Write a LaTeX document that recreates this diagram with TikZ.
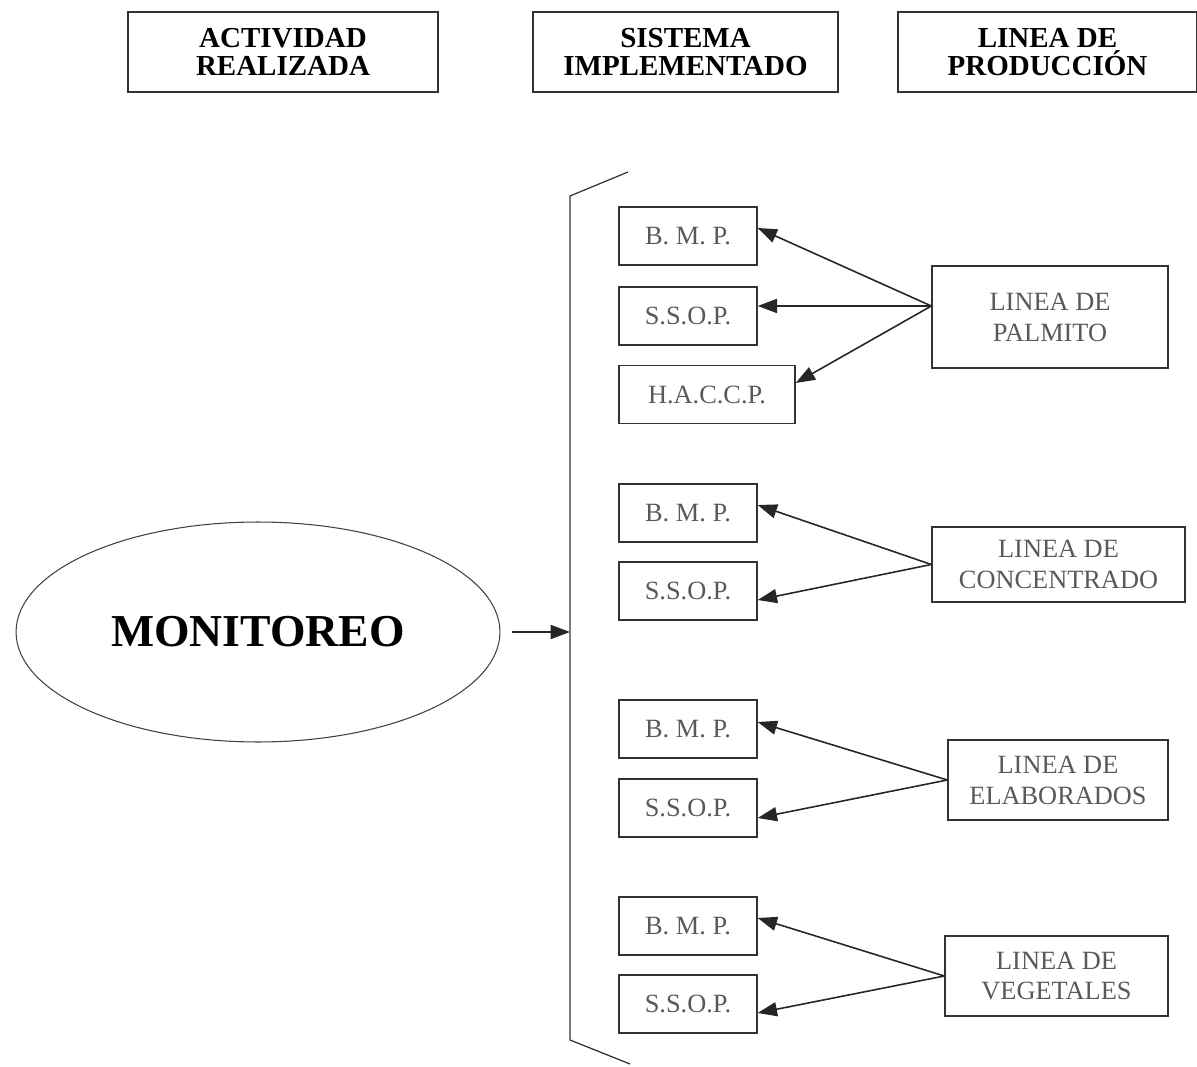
\documentclass[tikz,border=0pt]{standalone}
\usepackage{fontspec}
\setmainfont{Liberation Serif}
\usepackage{tikz}
\usetikzlibrary{shapes.geometric,arrows.meta}

\begin{document}
\begin{tikzpicture}[x=0.02cm, y=0.02cm,
  hdr/.style={draw=black!80, line width=0.8pt, minimum height=1.6cm, inner sep=0pt, align=center,
    font=\bfseries\fontsize{16.5}{15.6}\selectfont},
  sysbox/.style={draw=black!80, line width=0.8pt, minimum width=2.76cm, minimum height=1.16cm, inner sep=0pt,
    text=black!65, font=\fontsize{15}{17}\selectfont},
  linebox/.style={draw=black!80, line width=0.8pt, inner sep=0pt, align=center,
    text=black!65, font=\fontsize{15}{17.6}\selectfont},
  flow/.style={draw=black!85, line width=0.9pt, -{Triangle[length=11pt,width=8pt]}}]
\useasboundingbox (0,0) rectangle (1197,-1067);
% column headings
\node[hdr, minimum width=6.2cm] (colA) at (283,-52) {ACTIVIDAD\\REALIZADA};
\node[hdr, minimum width=6.1cm] (colB) at (685.5,-52) {SISTEMA\\IMPLEMENTADO};
\node[hdr, minimum width=5.98cm] (colC) at (1047.5,-52) {LINEA DE\\PRODUCCIÓN};
% activity
\node[draw=black!75, line width=0.6pt, ellipse, minimum width=9.68cm, minimum height=4.4cm, inner sep=0pt,
  font=\bfseries\fontsize{26}{30}\selectfont] (mon) at (258,-632) {MONITOREO};
\coordinate (brk) at (570,-632);
\draw [black!80, line width=0.7pt] (628,-172) -- (570,-196) -- (570,-1040) -- (630,-1064);
\draw [flow] ([xshift=0.24cm]mon.east) -- (brk);
% systems
\node[sysbox] (bmpA) at (688,-236) {B. M. P.};
\node[sysbox] (ssopA) at (688,-316) {S.S.O.P.};
\node[sysbox, minimum width=3.52cm] (haccp) at (707,-394.5) {H.A.C.C.P.};
\node[sysbox] (bmpB) at (688,-513) {B. M. P.};
\node[sysbox] (ssopB) at (688,-591) {S.S.O.P.};
\node[sysbox] (bmpC) at (688,-729) {B. M. P.};
\node[sysbox] (ssopC) at (688,-808) {S.S.O.P.};
\node[sysbox] (bmpD) at (688,-926) {B. M. P.};
\node[sysbox] (ssopD) at (688,-1004) {S.S.O.P.};
% production lines
\node[linebox, minimum width=4.72cm, minimum height=2.04cm] (palm) at (1050,-317) {LINEA DE\\PALMITO};
\node[linebox, minimum width=5.06cm, minimum height=1.5cm] (conc) at (1058.5,-564.5) {LINEA DE\\CONCENTRADO};
\node[linebox, minimum width=4.4cm, minimum height=1.6cm] (elab) at (1058,-780) {LINEA DE\\ELABORADOS};
\node[linebox, minimum width=4.46cm, minimum height=1.6cm] (veg) at (1056.5,-976) {LINEA DE\\VEGETALES};
% arrows
\draw [flow] ([yshift=0.22cm]palm.west) -- ([yshift=0.16cm]bmpA.east);
\draw [flow] ([yshift=0.22cm]palm.west) -- ([yshift=0.2cm]ssopA.east);
\draw [flow] ([yshift=0.22cm]palm.west) -- ([yshift=0.23cm]haccp.east);
\draw [flow] (conc.west) -- ([yshift=0.16cm]bmpB.east);
\draw [flow] (conc.west) -- ([yshift=-0.18cm]ssopB.east);
\draw [flow] (elab.west) -- ([yshift=0.14cm]bmpC.east);
\draw [flow] (elab.west) -- ([yshift=-0.2cm]ssopC.east);
\draw [flow] (veg.west) -- ([yshift=0.16cm]bmpD.east);
\draw [flow] (veg.west) -- ([yshift=-0.18cm]ssopD.east);
\end{tikzpicture}
\end{document}
